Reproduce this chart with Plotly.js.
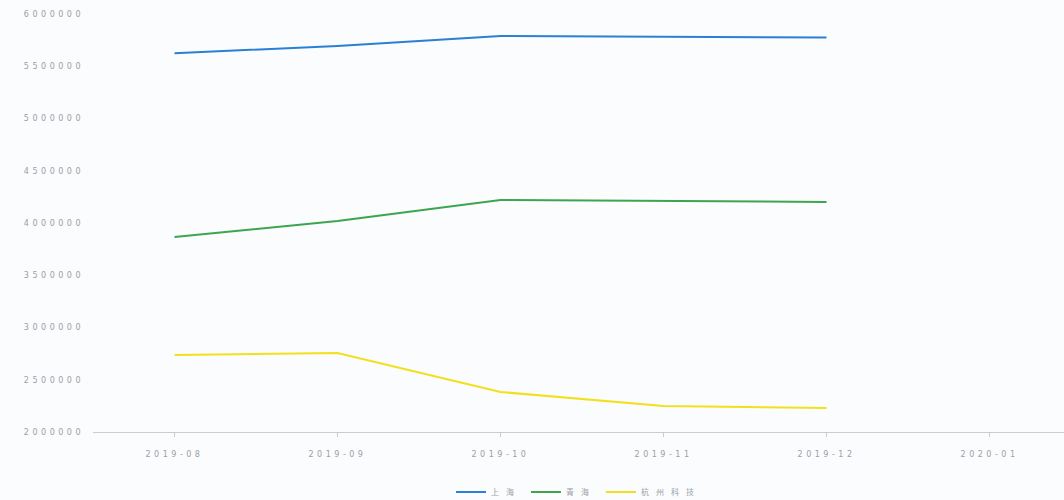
<!DOCTYPE html>
<html>
<head>
<meta charset="utf-8">
<script src="https://cdn.plot.ly/plotly-3.0.1.min.js"></script>
<style>
body{margin:0;background:#fbfcfd;}
#chart{width:1064px;height:500px;}
.xtick text,.ytick text{letter-spacing:3.5px;}
.legendtext{letter-spacing:7px;}
</style>
</head>
<body>
<div id="chart"></div>
<script>
const months = ["2019-08","2019-09","2019-10","2019-11","2019-12","2020-01"];
const seriesNames = ["上海","青海","杭州科技"];
const shanghai = [5625000, 5694000, 5789000, 5780000, 5775000, null];
const qinghai  = [3866000, 4019000, 4220000, 4210000, 4201000, null];
const hangzhou = [2737000, 2756000, 2383000, 2249000, 2230000, null];
const colors = ["#2a7fd6","#3da54f","#f2e01c"];

const data = [shanghai, qinghai, hangzhou].map((vals, i) => ({
  type: "scatter", mode: "lines",
  x: months, y: vals, name: seriesNames[i],
  line: {color: colors[i], width: 2},
  hoverinfo: "none"
}));

const layout = {
  width: 1064, height: 500,
  paper_bgcolor: "#fbfcfd", plot_bgcolor: "#fbfcfd",
  margin: {l: 93, r: 0, t: 14, b: 68, autoexpand: false},
  font: {family: "DejaVu Sans, sans-serif", color: "#9aa0a8", size: 8},
  xaxis: {
    type: "category", categoryorder: "array", categoryarray: months,
    range: [-0.5, 5.457], automargin: false,
    showgrid: false, zeroline: false,
    showline: true, linecolor: "#c9ccd2", linewidth: 1,
    ticks: "outside", ticklen: 4, tickcolor: "#c9ccd2",
    ticklabelstandoff: 10,
    tickfont: {size: 8, color: "#9aa0a8"}
  },
  yaxis: {
    range: [2000000, 6000000], automargin: false,
    tickvals: [2000000,2500000,3000000,3500000,4000000,4500000,5000000,5500000,6000000],
    ticktext: ["2000000","2500000","3000000","3500000","4000000","4500000","5000000","5500000","6000000"],
    showgrid: false, zeroline: false, showline: false,
    ticks: "", ticklabelstandoff: 8,
    tickfont: {size: 8, color: "#9aa0a8"}
  },
  legend: {
    orientation: "h", x: 0.5, xanchor: "center",
    yref: "container", y: 0.045, yanchor: "top",
    font: {size: 8, color: "#9aa0a8", family: "Noto Sans CJK SC, sans-serif"},
    itemwidth: 30, traceorder: "normal"
  },
  showlegend: true
};

Plotly.newPlot("chart", data, layout, {displayModeBar: false, staticPlot: true});
</script>
</body>
</html>
